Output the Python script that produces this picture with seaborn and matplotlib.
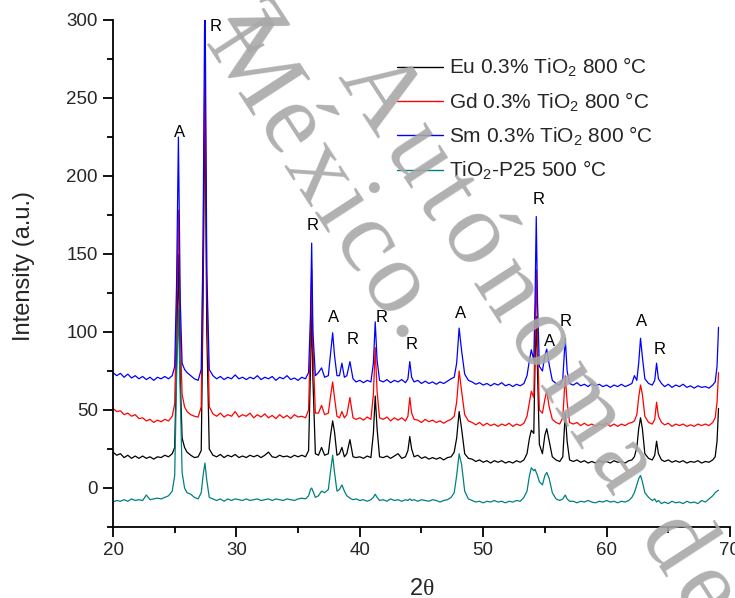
import numpy as np
import pandas as pd
import matplotlib
matplotlib.use("Agg")
import matplotlib.pyplot as plt
from matplotlib.ticker import MultipleLocator
from matplotlib import font_manager, ft2font
from matplotlib.font_manager import FontProperties
import seaborn as sns

# ---- XRD patterns (intensity already offset for stacking) ----
two_theta = [
    20.0, 20.3, 20.6, 20.9, 21.2, 21.5, 21.8, 22.1, 22.4, 22.7, 23.0, 23.3, 23.6, 23.9, 24.2, 24.5, 24.8,
    25.0, 25.15, 25.3, 25.45, 25.6, 25.8, 26.0,
    26.3, 26.6, 26.9, 27.15,
    27.3, 27.45, 27.6, 27.8,
    28.1, 28.4, 28.7, 29.0, 29.3, 29.6, 29.9, 30.2, 30.5, 30.8, 31.1, 31.4, 31.7, 32.0, 32.3, 32.6,
    32.9, 33.2, 33.5, 33.8, 34.1, 34.4, 34.7, 35.0, 35.3, 35.6,
    35.85, 36.0, 36.1, 36.2, 36.4, 36.65, 36.9, 37.15, 37.45, 37.65,
    37.8, 37.95, 38.15, 38.35, 38.55, 38.75, 38.95, 39.2, 39.45, 39.7,
    40.0, 40.3, 40.6, 40.9,
    41.1, 41.25, 41.4, 41.6,
    41.9, 42.2, 42.5, 42.8, 43.1, 43.4, 43.7,
    43.9, 44.05, 44.2, 44.4,
    44.7, 45.0, 45.3, 45.6, 45.9, 46.2, 46.5, 46.8, 47.1, 47.4, 47.65,
    47.85, 48.05, 48.25, 48.5, 48.8,
    49.1, 49.4, 49.7, 50.0, 50.3, 50.6, 50.9, 51.2, 51.5, 51.8, 52.1, 52.4, 52.7, 53.0, 53.3, 53.55,
    53.75, 53.9, 54.1, 54.2, 54.3, 54.4, 54.55, 54.8, 55.0, 55.15, 55.35, 55.6, 55.9, 56.2, 56.45, 56.65, 56.8, 57.0,
    57.3, 57.6, 57.9, 58.2, 58.5, 58.8, 59.1, 59.4, 59.7, 60.0, 60.3, 60.6, 60.9, 61.2, 61.5, 61.8,
    62.05, 62.25, 62.45, 62.6, 62.75, 62.9, 63.1, 63.4, 63.7, 63.9, 64.05, 64.2, 64.45,
    64.7, 65.0, 65.3, 65.6, 65.9, 66.2, 66.5, 66.8, 67.1, 67.4, 67.7, 68.0, 68.3, 68.6,
    68.8, 68.95, 69.07,
]

eu_tio2 = [
    23, 21, 22, 19.5, 21, 19, 20.5, 19, 20.5, 19, 20, 18.5, 20, 19.5, 21, 20, 22,
    26, 80, 150, 70, 32, 26, 23,
    21, 19.5, 20, 24,
    120, 250, 100, 25,
    21, 20, 21.5, 19.5, 21, 20, 21.5, 19.5, 20.5, 19.5, 21, 20, 21, 19.5, 21, 23,
    20, 19.5, 21, 20, 20.5, 19.5, 21, 20, 21, 20,
    24, 75, 115, 70, 22, 21, 26, 21, 22, 35,
    43, 36, 21, 22, 26, 20, 22, 31, 20, 19.5,
    20, 19, 20.5, 19.5,
    35, 59, 38, 20,
    19.5, 20.5, 19, 20.5, 22, 19, 20,
    24, 33, 25, 20,
    21, 19, 20, 18.5, 19.5, 18.5, 19.5, 18, 19.5, 20, 23,
    32, 49, 38, 22, 19,
    18.5, 17, 18, 16.5, 17.5, 16, 17.5, 16.5, 17.5, 16, 17, 16, 17.5, 16.5, 18, 22,
    32, 37, 35, 80, 110, 75, 28, 22, 34, 38, 30, 20, 18, 17, 20, 48, 30, 18,
    17, 18, 16.5, 17.5, 16, 17, 16, 17.5, 16.5, 17, 16, 17.5, 16.5, 17, 16, 17.5,
    18, 20, 26, 38, 45, 38, 22, 19, 18, 21, 30, 22, 18,
    17, 18, 16.5, 17.5, 16.5, 17.5, 16, 17, 16.5, 17.5, 16, 17, 16.5, 18,
    20, 30, 51,
]

gd_tio2 = [
    51, 49, 49.5, 47, 48, 46, 47, 44.5, 45, 43, 44, 42, 43.5, 42.5, 44, 43, 46,
    54, 110, 178, 100, 60, 52, 49,
    47, 46, 45.5, 52,
    150, 275, 130, 52,
    47.5, 46, 48, 45.5, 47, 46, 49, 45.5, 47, 46, 48, 45, 47, 45.5, 47.5, 45,
    46.5, 44.5, 47, 45, 46.5, 44.5, 47, 45.5, 46, 45,
    50, 95, 140, 90, 48, 48, 53, 47, 48, 60,
    68, 58, 46, 45, 49, 45, 47, 58, 45, 44,
    45, 43.5, 45.5, 44,
    60, 90, 62, 45,
    44, 45.5, 43, 45, 43.5, 45, 43,
    46, 58, 48, 44,
    43.5, 42, 44, 42.5, 43.5, 42, 43, 41.5, 43, 44, 46,
    55, 75, 62, 47, 43,
    42, 40.5, 42, 40, 41.5, 40, 41, 39.5, 41, 40, 41.5, 39.5, 41, 40, 41.5, 46,
    55, 62, 58, 100, 140, 95, 50, 48, 57, 62, 52, 44, 42, 41, 45, 72, 55, 42,
    41, 42, 40, 41.5, 40, 41, 39.5, 41, 40, 41.5, 39.5, 41, 39.5, 41, 40, 41.5,
    42, 43, 47, 58, 66, 60, 46, 42, 41, 44, 55, 46, 42,
    40.5, 41.5, 39.5, 41, 40, 41, 39.5, 40.5, 39.5, 41, 40, 41, 40, 42,
    45, 55, 74,
]

sm_tio2 = [
    74, 72, 73.5, 71, 73, 70.5, 72, 70, 71.5, 69.5, 71, 69, 71, 70, 71.5, 70, 72,
    78, 130, 225, 120, 80, 76, 74,
    72, 70, 69, 76,
    160, 330, 140, 76,
    72, 70, 71.5, 69.5, 71, 70, 72.5, 70, 71, 69.5, 71, 70, 72, 69.5, 71, 70,
    71.5, 69, 71, 70, 72, 69.5, 70.5, 69, 71, 70,
    74, 110, 157, 100, 72, 74, 77, 71, 72, 88,
    99.5, 85, 72, 72, 80, 71, 72, 81, 70, 68,
    69, 67.5, 69, 68,
    80, 106.5, 82, 69,
    68, 69.5, 67.5, 69, 68, 69.5, 67.5,
    70, 81, 71, 68,
    69, 67, 68.5, 67, 68, 66.5, 68, 67, 68.5, 70, 71,
    80, 102.5, 88, 73, 69,
    68, 66.5, 67.5, 66, 67, 65.5, 67, 66, 67.5, 65.5, 66.5, 65, 66.5, 65.5, 67, 72,
    82, 88.6, 82, 120, 174, 120, 78, 75, 85, 89, 79, 69, 67, 66, 70, 96, 75, 67,
    66, 67.5, 65.5, 66.5, 65, 67, 65.5, 66.5, 65, 66, 64.5, 66, 65, 66.5, 65, 66,
    67, 72, 69, 80, 96, 84, 70, 67, 66, 69, 80, 70, 67,
    65, 66.5, 64.5, 66, 65, 66.5, 64.5, 65.5, 64, 65.5, 64.5, 65, 64, 66,
    68, 78, 103,
]

p25_tio2 = [
    -9, -8, -8.5, -7.5, -8.5, -7, -8, -7.5, -8, -4.5, -7.5, -7, -6.5, -7, -6, -5, -2,
    8, 70, 115, 60, 10, 0, -3,
    -4, -6, -7, -3,
    8, 16, 5, -6,
    -7, -8, -7, -8.5, -7, -8, -7, -7.5, -8, -7, -8, -7.5, -7, -8, -7.5, -7,
    -8, -7, -7.5, -8, -7, -7.5, -8, -7, -6.5, -7,
    -5, -1, 0, -2, -6, -5, -2, -3, -1, 12,
    21, 10, -2, -1, 2, -2, -5, -6.5, -7.5, -7,
    -8, -7.5, -8.5, -7.5,
    -6, -4, -6, -8,
    -7.5, -8.5, -7, -8, -7.5, -8.5, -7.5,
    -8, -7, -8, -7.5,
    -8.5, -7.5, -8, -8.5, -7.5, -8, -9, -8, -7.5, -6, -3,
    8, 22, 15, -2, -7,
    -8, -9, -8.5, -9.5, -8.5, -9, -8, -9, -8.5, -9.5, -8.5, -9, -8, -8.5, -6, -2,
    8, 13, 11, 12, 10, 8, 4, 2, 8, 10, 6, -3, -7, -8, -7, -4.5, -7, -8.5,
    -8.5, -9.5, -8.5, -9, -8, -9, -9.5, -8.5, -9, -8, -9, -8.5, -9.5, -8.5, -9, -8,
    -6, -3, 2, 6, 8, 4, -3, -6, -8, -7, -9, -8, -10,
    -9, -10, -8.5, -9.5, -9, -10, -8.5, -9.5, -9, -10, -8, -9, -7, -5,
    -3, -2, -1.5,
]

sample_labels = [
    "Eu 0.3% TiO$_2$ 800 °C",
    "Gd 0.3% TiO$_2$ 800 °C",
    "Sm 0.3% TiO$_2$ 800 °C",
    "TiO$_2$-P25 500 °C",
]
sample_colors = ["#000000", "#ff0000", "#0000ff", "#008080"]

# Phase markers: A = anatase, R = rutile
phase_text = ["A", "R", "R", "A", "R", "R", "R", "A", "R", "A", "R", "A", "R"]
phase_2theta = [25.4, 28.3, 36.2, 37.85, 39.4, 41.8, 44.2, 48.2, 54.5, 55.4, 56.7, 62.8, 64.3]
phase_level = [228, 296, 168, 109, 95, 109, 92, 112, 185, 94, 107, 107, 89]

# ---- long-form table ----
frames = []
for lab, vals in zip(sample_labels, [eu_tio2, gd_tio2, sm_tio2, p25_tio2]):
    frames.append(pd.DataFrame({"2θ": two_theta, "Intensity": vals, "Sample": lab}))
data = pd.concat(frames, ignore_index=True)

sns.set_theme(style="ticks")
plt.rcParams["font.family"] = ["Liberation Sans", "DejaVu Sans"]
plt.rcParams["mathtext.fontset"] = "custom"
plt.rcParams["mathtext.rm"] = "Liberation Sans"
plt.rcParams["mathtext.it"] = "Liberation Sans:italic"
plt.rcParams["mathtext.sf"] = "Liberation Serif"

W, H = 735, 598
fig = plt.figure(figsize=(W / 100, H / 100), dpi=100)
ax = fig.add_axes([113 / W, 1 - 527 / H, (730 - 113) / W, (527 - 20) / H])

sns.lineplot(
    data=data, x="2θ", y="Intensity", hue="Sample",
    hue_order=sample_labels, palette=sample_colors,
    estimator=None, sort=False, linewidth=0.9, ax=ax,
)

ax.set_xlim(20, 70)
ax.set_ylim(-25, 300)
ax.xaxis.set_major_locator(MultipleLocator(10))
ax.xaxis.set_minor_locator(MultipleLocator(5))
ax.yaxis.set_major_locator(MultipleLocator(50))
ax.yaxis.set_minor_locator(MultipleLocator(25))
for s in ["top", "right"]:
    ax.spines[s].set_visible(False)
for s in ["left", "bottom"]:
    ax.spines[s].set_linewidth(1.3)
    ax.spines[s].set_color("black")
ax.tick_params(which="major", length=7, width=1.3, labelsize=13.5, color="black", pad=4)
ax.tick_params(which="minor", length=4.5, width=1.3, color="black")

ax.set_xlabel("2$\\mathsf{\\theta}$", fontsize=17)
ax.set_ylabel("Intensity (a.u.)", fontsize=17)
ax.xaxis.set_label_coords(0.5, -0.1)
ax.yaxis.set_label_coords(-0.126, 0.515)

for t, x, y in zip(phase_text, phase_2theta, phase_level):
    ax.text(x, y, t, fontsize=12, ha="center", va="center", color="black")

leg = ax.legend(
    loc="upper left", bbox_to_anchor=(397 / W, 1 - 56 / H), bbox_transform=fig.transFigure,
    frameon=False, fontsize=15, handlelength=2.2, handletextpad=0.3,
    labelspacing=0.53, borderpad=0, borderaxespad=0,
)
for ln in leg.get_lines():
    ln.set_linewidth(1.0)

# ---- diagonal, letter-spaced library watermark drawn over everything ----
wm_path = font_manager.findfont(FontProperties(family="Liberation Serif"))
wm_font = ft2font.FT2Font(wm_path)
wm_style = dict(family=["Liberation Serif", "DejaVu Serif"], color="#a8a8a8", alpha=0.9,
                rotation_mode="anchor", ha="center", zorder=20)


def tracked_text(txt, size, angle, anchor_idx, anchor_xy, track):
    """Lay out txt glyph by glyph along a slanted baseline (pixel units, y down)."""
    wm_font.set_size(size, 100)
    advances = [wm_font.load_char(ord(c)).linearHoriAdvance / 65536 for c in txt]
    centers, pos = [], 0.0
    for a in advances:
        centers.append(pos + a / 2)
        pos += a + track
    rad = np.deg2rad(angle)
    d = np.array([np.cos(rad), np.sin(rad)])
    origin = np.array(anchor_xy, dtype=float) - centers[anchor_idx] * d
    for ch, off in zip(txt, centers):
        if ch == " ":
            continue
        x, y = origin + off * d
        fig.text(x / W, 1 - y / H, ch, fontsize=size, rotation=-angle,
                 va="baseline", **wm_style)


fig.text(258 / W, 1 - 24 / H, "z", fontsize=78, rotation=-57, va="center", **wm_style)
tracked_text("Autónoma de", 74, 57, 0, (357, 108), 10)
tracked_text("México.", 74, 57, 6, (394, 338), 4)

fig.savefig("out.png", dpi=100)
